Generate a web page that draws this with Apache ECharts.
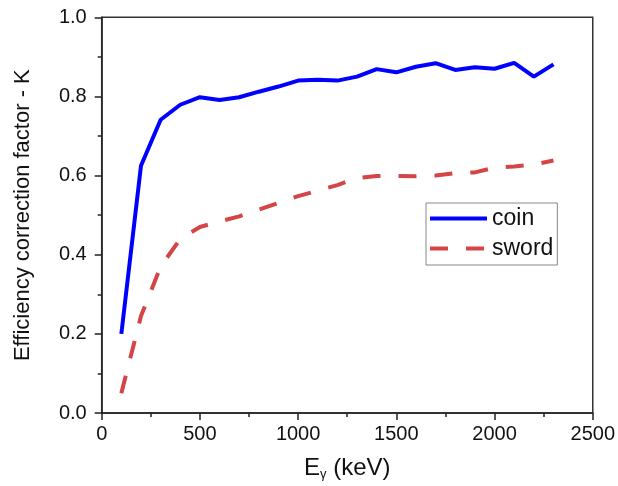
<!DOCTYPE html>
<html>
<head>
<meta charset="utf-8">
<script src="https://cdn.jsdelivr.net/npm/echarts@6/dist/echarts.min.js"></script>
<style>
  html, body { margin: 0; padding: 0; background: #fff; }
  #chart { width: 618px; height: 486px; }
</style>
</head>
<body>
<div id="chart"></div>
<script>
// Gamma energies (keV)
const energy = [100, 200, 300, 400, 500, 600, 700, 800, 900, 1000, 1100, 1200,
                1300, 1400, 1500, 1600, 1700, 1800, 1900, 2000, 2100, 2200, 2300];
// Efficiency correction factor K for each sample
const coin = [0.200, 0.625, 0.741, 0.779, 0.798, 0.791, 0.798, 0.812, 0.825, 0.840, 0.842, 0.840,
              0.850, 0.869, 0.861, 0.875, 0.884, 0.867, 0.874, 0.870, 0.885, 0.850, 0.881];
const sword = [0.050, 0.245, 0.370, 0.440, 0.470, 0.484, 0.497, 0.514, 0.531, 0.548, 0.562, 0.576,
               0.594, 0.599, 0.599, 0.598, 0.600, 0.606, 0.608, 0.620, 0.623, 0.628, 0.638];
const seriesNames = ['coin', 'sword'];

const font = "'Liberation Sans', Arial, sans-serif";
const axisColor = '#222';

function pairs(xs, ys) { return xs.map((x, i) => [x, ys[i]]); }

const chart = echarts.init(document.getElementById('chart'), null, { renderer: 'canvas' });

const axisCommon = {
  type: 'value',
  axisLine: { show: true, onZero: false, lineStyle: { color: axisColor, width: 1.5 } },
  axisTick: { show: true, inside: false, length: 7, lineStyle: { color: axisColor, width: 1.5 } },
  minorTick: { show: true, splitNumber: 2, length: 4, lineStyle: { color: axisColor, width: 1.5 } },
  splitLine: { show: false },
  nameTextStyle: { fontFamily: font, fontSize: 22, color: '#111' }
};

chart.setOption({
  animation: false,
  backgroundColor: '#fff',
  grid: {
    left: 101.7, right: 24.7, top: 17.3, bottom: 72.7,
    show: true, borderColor: '#333', borderWidth: 1.5
  },
  legend: {
    data: seriesNames,
    orient: 'vertical',
    left: 426, top: 203,
    borderColor: '#888', borderWidth: 1,
    padding: [4, 4, 5, 2],
    itemWidth: 57, itemHeight: 14, itemGap: 7,
    itemStyle: { opacity: 0 },
    lineStyle: { width: 4 },
    textStyle: { fontFamily: font, fontSize: 23, color: '#111' }
  },
  xAxis: Object.assign({}, axisCommon, {
    min: 0, max: 2500, interval: 500,
    name: 'E{sub|γ} (keV)',
    nameLocation: 'middle', nameGap: 42,
    nameTextStyle: {
      fontFamily: font, fontSize: 24, color: '#111',
      rich: { sub: { fontFamily: font, fontSize: 13, color: '#111', padding: [13, 0, 0, 0] } }
    },
    axisLabel: { fontFamily: font, fontSize: 20, color: '#111', margin: 11,
                 formatter: v => String(v) }
  }),
  yAxis: Object.assign({}, axisCommon, {
    min: 0, max: 1, interval: 0.2,
    name: 'Efficiency correction factor - K',
    nameLocation: 'middle', nameGap: 68,
    axisLabel: { fontFamily: font, fontSize: 20, color: '#111', margin: 15,
                 formatter: v => v.toFixed(1) }
  }),
  series: [
    {
      name: seriesNames[0], type: 'line', symbol: 'none',
      data: pairs(energy, coin),
      lineStyle: { color: '#0000ff', width: 4 },
      itemStyle: { color: '#0000ff' }
    },
    {
      name: seriesNames[1], type: 'line', symbol: 'none',
      data: pairs(energy, sword),
      lineStyle: { color: '#d64545', width: 4, type: [18, 18] },
      itemStyle: { color: '#d64545' }
    }
  ]
});
</script>
</body>
</html>
